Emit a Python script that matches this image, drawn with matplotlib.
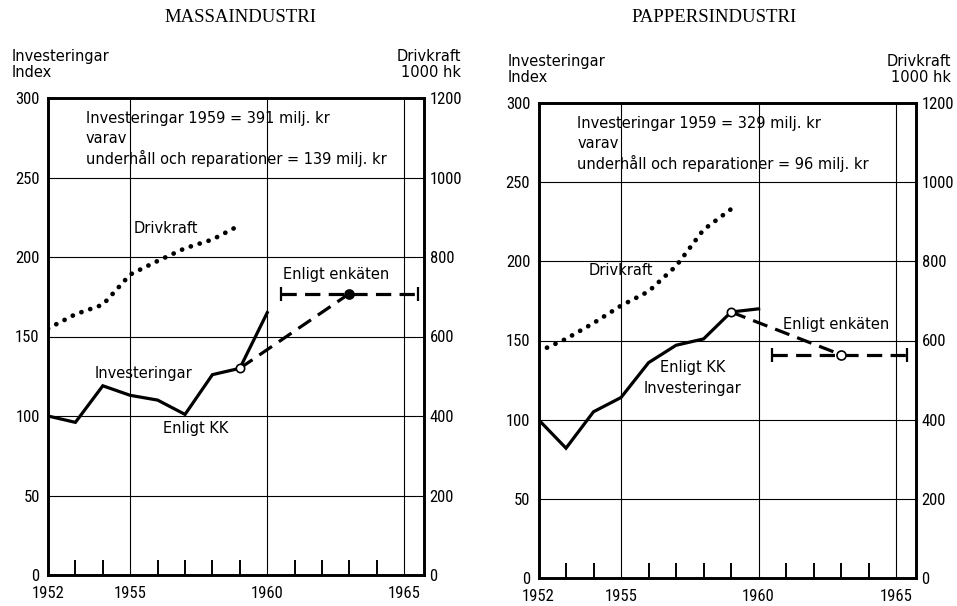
import matplotlib.pyplot as plt
import matplotlib.ticker as mticker
from matplotlib import font_manager

plt.rcParams['lines.scale_dashes'] = False

# narrow lettering for the numbers, best available
_names = {f.name for f in font_manager.fontManager.ttflist}
if 'Roboto Condensed' in _names:
    DIGITS, DIGIT_SIZE = ['Roboto Condensed'], 12
elif 'Liberation Sans Narrow' in _names:
    DIGITS, DIGIT_SIZE = ['Liberation Sans Narrow'], 13
elif 'Roboto' in _names:
    DIGITS, DIGIT_SIZE = ['Roboto'], 11
else:
    DIGITS, DIGIT_SIZE = ['DejaVu Sans'], 10
LETTER = ['DejaVu Sans']
TITLE = ['Liberation Serif', 'DejaVu Serif']

years = [1952, 1953, 1954, 1955, 1956, 1957, 1958, 1959, 1960]

# Massaindustri
massa_invest = [100, 96, 119, 113, 110, 101, 126, 130, 165]
massa_drivkraft = [620, 656, 680, 756, 790, 822, 844, 880]    # 1000 hk, 1952-1959
massa_enkat_years = [1959, 1963]
massa_enkat = [130, 177]
massa_plan_years = [1960.5, 1965.5]
massa_plan = 177

# Pappersindustri
papper_invest = [100, 82, 105, 114, 136, 147, 151, 168, 170]
papper_drivkraft = [572, 604, 644, 688, 724, 788, 880, 932]
papper_enkat_years = [1959, 1963]
papper_enkat = [168, 141]
papper_plan_years = [1960.5, 1965.4]
papper_plan = 141

W, H = 957, 606
fig = plt.figure(figsize=(W / 100, H / 100), dpi=100)


def px(x, y):
    return x / W, 1 - y / H


def panel(rect, title, title_x, invest, drivkraft, enk_years, enk, plan_years, plan,
          enk_filled, note, note_x, labels, head_left, head_right):
    ax = fig.add_axes(rect)
    ax.set_xlim(1952, 1965.72)
    ax.set_ylim(0, 300)
    for s in ax.spines.values():
        s.set_linewidth(1.9)
        s.set_color('black')

    ax.set_yticks(range(0, 301, 50))
    ax.set_xticks([1952, 1955, 1960, 1965])
    ax.xaxis.set_minor_locator(mticker.FixedLocator(
        [y for y in range(1953, 1965) if y not in (1955, 1960)]))
    ax.tick_params(axis='y', length=0, pad=6, labelsize=DIGIT_SIZE)
    ax.tick_params(axis='x', which='major', length=0, pad=8, labelsize=DIGIT_SIZE)
    ax.tick_params(axis='x', which='minor', direction='in', length=11, width=1.4)
    for lab in ax.get_xticklabels() + ax.get_yticklabels():
        lab.set_family(DIGITS)

    for v in range(50, 300, 50):
        ax.axhline(v, color='black', lw=0.8, zorder=1)
    for yr in (1955, 1960, 1965):
        ax.axvline(yr, color='black', lw=0.8, zorder=1)

    # investeringar enligt KK
    ax.plot(years, invest, color='black', lw=2.3, solid_joinstyle='miter', zorder=3)
    # enligt enkäten
    ax.plot(enk_years, enk, color='black', lw=2.3, dashes=(11, 6), zorder=3)
    ax.plot(plan_years, [plan, plan], color='black', lw=2.3, dashes=(11, 6), zorder=3)
    ax.plot(plan_years, [plan, plan], ls='none', marker='|', ms=10, mew=1.6,
            color='black', zorder=3)
    ax.plot(enk_years[0], enk[0], marker='o', ms=6, mfc='white', mec='black',
            mew=1.2, zorder=4)
    ax.plot(enk_years[1], enk[1], marker='o', ms=6.5,
            mfc='black' if enk_filled else 'white', mec='black', mew=1.2, zorder=4)

    # drivkraft på höger axel
    ax2 = ax.twinx()
    ax2.set_ylim(0, 1200)
    ax2.set_yticks(range(0, 1201, 200))
    ax2.tick_params(axis='y', length=0, pad=4, labelsize=DIGIT_SIZE)
    for lab in ax2.get_yticklabels():
        lab.set_family(DIGITS)
    for s in ax2.spines.values():
        s.set_linewidth(1.9)
    ax2.plot(years[:len(drivkraft)], drivkraft, color='black', lw=3.4,
             linestyle=(0, (0.1, 6.6)), dash_capstyle='round', zorder=3)

    for txt, x, y in labels:
        ax.text(x, y, txt, ha='center', va='center', fontsize=10.5,
                family=LETTER, zorder=5)
    for i, line in enumerate(note):
        ax.text(note_x, 0.957 - i * 0.042, line,
                transform=ax.transAxes, ha='left', va='center', fontsize=10.5,
                family=LETTER)

    fig.text(*px(*head_left), 'Investeringar\nIndex', ha='left', va='top',
             fontsize=10.5, family=LETTER, linespacing=1.05)
    fig.text(*px(*head_right), 'Drivkraft\n1000 hk', ha='right', va='top',
             multialignment='right', fontsize=10.5, family=LETTER, linespacing=1.05)
    fig.text(title_x, px(0, 17)[1], title, ha='center', va='center',
             fontsize=13.5, family=TITLE)
    return ax


panel([48 / W, 1 - 575 / H, 376 / W, 477 / H], 'MASSAINDUSTRI', 240 / W,
      massa_invest, massa_drivkraft, massa_enkat_years, massa_enkat,
      massa_plan_years, massa_plan, True,
      ['Investeringar 1959 = 391 milj. kr', 'varav',
       'underhåll och reparationer = 139 milj. kr'], 0.1,
      [('Drivkraft', 1956.3, 218), ('Investeringar', 1955.5, 127),
       ('Enligt KK', 1957.4, 92), ('Enligt enkäten', 1962.5, 189)],
      (12, 49), (461, 49))

panel([538.5 / W, 1 - 578 / H, 377.5 / W, 475 / H], 'PAPPERSINDUSTRI', 714 / W,
      papper_invest, papper_drivkraft, papper_enkat_years, papper_enkat,
      papper_plan_years, papper_plan, False,
      ['Investeringar 1959 = 329 milj. kr', 'varav',
       'underhåll och reparationer = 96 milj. kr'], 0.103,
      [('Drivkraft', 1955.0, 194), ('Enligt KK', 1957.6, 133),
       ('Investeringar', 1957.6, 120), ('Enligt enkäten', 1962.8, 160)],
      (508, 54), (951, 54))

fig.savefig('out.png', dpi=100)
